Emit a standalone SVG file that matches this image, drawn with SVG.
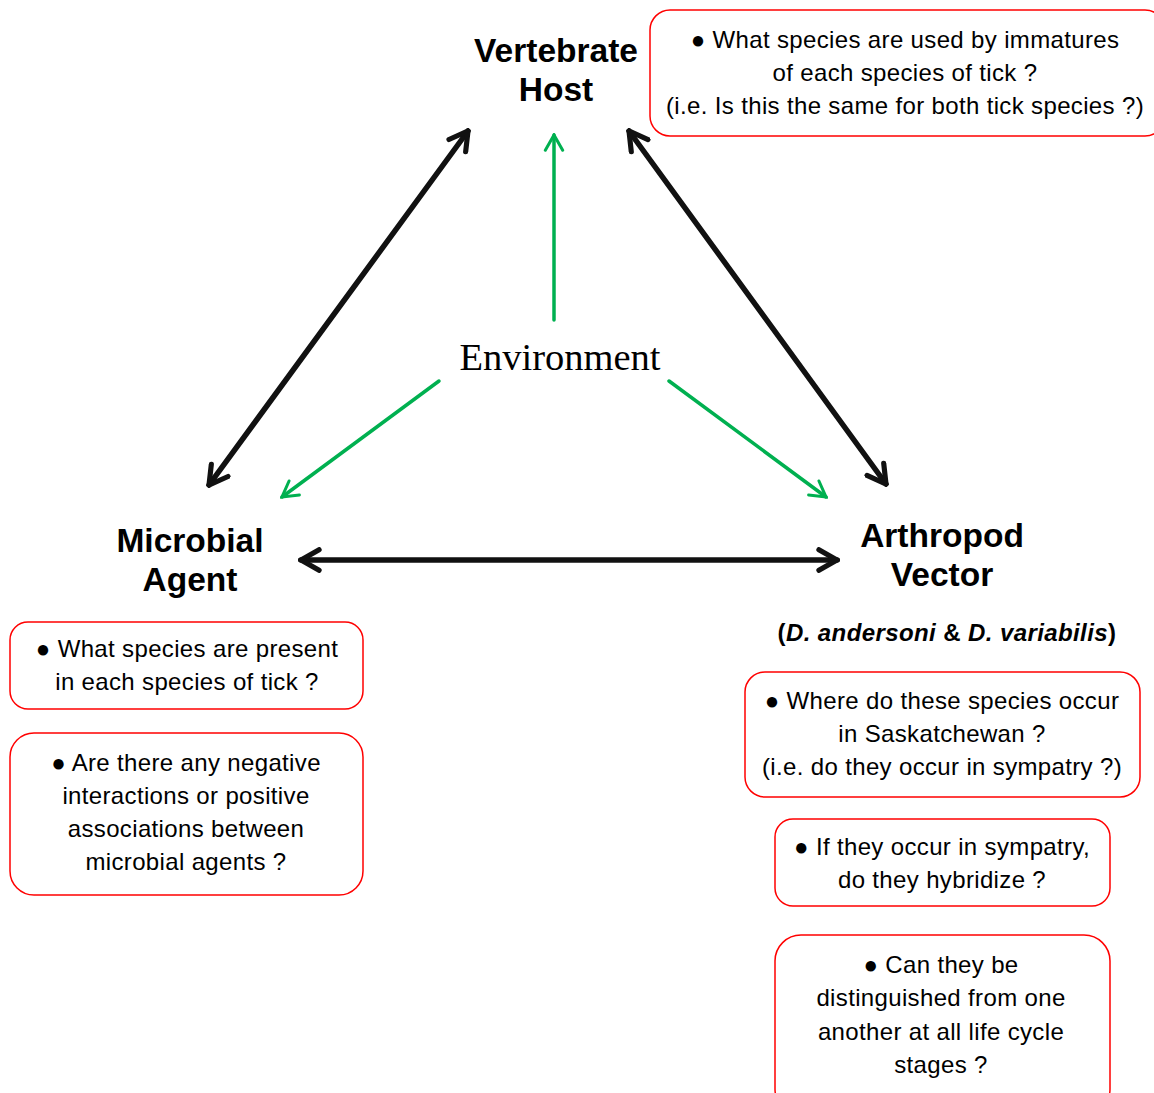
<svg xmlns="http://www.w3.org/2000/svg" width="1154" height="1093" viewBox="0 0 1154 1093">
<style>
.title{font-family:"Liberation Sans",Arial,sans-serif;font-weight:bold;font-size:33.5px;fill:#000;text-anchor:middle}
.q{font-family:"Liberation Sans",Arial,sans-serif;font-size:24px;letter-spacing:0.35px;fill:#000;text-anchor:middle}
.box{fill:#fff;stroke:#ff0000;stroke-width:1.5}
.blk{stroke:#111;stroke-width:5.5;fill:none;stroke-linecap:round}
.grn{stroke:#00b050;stroke-width:3.5;fill:none;stroke-linecap:round}
</style>
<defs>
<marker id="ah" viewBox="0 0 10 10" refX="9" refY="5" markerWidth="4.7" markerHeight="4.7" orient="auto-start-reverse" markerUnits="strokeWidth">
<path d="M2,1 L9,5 L2,9" fill="none" stroke="#111" stroke-width="2" stroke-linecap="round" stroke-linejoin="miter"/>
</marker>
<marker id="ag" viewBox="0 0 10 10" refX="9" refY="5" markerWidth="6.2" markerHeight="6.2" orient="auto" markerUnits="strokeWidth">
<path d="M2,1 L9,5 L2,9" fill="none" stroke="#00b050" stroke-width="1.4" stroke-linecap="round"/>
</marker>
</defs>
<rect width="1154" height="1093" fill="#fff"/>
<g id="connectors">
<line class="blk" x1="209" y1="485" x2="468" y2="131" marker-start="url(#ah)" marker-end="url(#ah)"/>
<line class="blk" x1="629" y1="131" x2="886" y2="484" marker-start="url(#ah)" marker-end="url(#ah)"/>
<line class="blk" x1="301" y1="560" x2="837" y2="560" marker-start="url(#ah)" marker-end="url(#ah)"/>
<line class="grn" x1="554" y1="320" x2="554" y2="135" marker-end="url(#ag)"/>
<line class="grn" x1="439" y1="381" x2="282" y2="497" marker-end="url(#ag)"/>
<line class="grn" x1="669" y1="381" x2="826" y2="497" marker-end="url(#ag)"/>
</g>
<g id="vertebrate-host">
<text class="title" x="556" y="62">Vertebrate</text>
<text class="title" x="556" y="101">Host</text>
</g>
<g id="environment">
<text x="560" y="370" font-family="'Liberation Serif','Times New Roman',serif" font-size="38.5" text-anchor="middle" fill="#000">Environment</text>
</g>
<g id="microbial-agent">
<text class="title" x="190" y="552">Microbial</text>
<text class="title" x="190" y="591">Agent</text>
</g>
<g id="arthropod-vector">
<text class="title" x="942" y="547">Arthropod</text>
<text class="title" x="942" y="586">Vector</text>
<text x="947" y="641" font-family="'Liberation Sans',Arial,sans-serif" font-weight="bold" font-size="24" letter-spacing="0.4" text-anchor="middle">(<tspan font-style="italic">D. andersoni</tspan> &amp; <tspan font-style="italic">D. variabilis</tspan>)</text>
</g>
<g id="q-host">
<rect class="box" x="650" y="10" width="515" height="126" rx="20"/>
<text class="q" x="905" y="48">● What species are used by immatures</text>
<text class="q" x="905" y="81">of each species of tick ?</text>
<text class="q" x="905" y="114">(i.e. Is this the same for both tick species ?)</text>
</g>
<g id="q-microbe-1">
<rect class="box" x="10" y="622" width="353" height="87" rx="18"/>
<text class="q" x="187" y="657">● What species are present</text>
<text class="q" x="187" y="690">in each species of tick ?</text>
</g>
<g id="q-microbe-2">
<rect class="box" x="10" y="733" width="353" height="162" rx="24"/>
<text class="q" x="186" y="771">● Are there any negative</text>
<text class="q" x="186" y="804">interactions or positive</text>
<text class="q" x="186" y="837">associations between</text>
<text class="q" x="186" y="870">microbial agents ?</text>
</g>
<g id="q-vector-1">
<rect class="box" x="745" y="672" width="395" height="125" rx="20"/>
<text class="q" x="942" y="709">● Where do these species occur</text>
<text class="q" x="942" y="742">in Saskatchewan ?</text>
<text class="q" x="942" y="775">(i.e. do they occur in sympatry ?)</text>
</g>
<g id="q-vector-2">
<rect class="box" x="775" y="819" width="335" height="87" rx="18"/>
<text class="q" x="942" y="855">● If they occur in sympatry,</text>
<text class="q" x="942" y="888">do they hybridize ?</text>
</g>
<g id="q-vector-3">
<rect class="box" x="775" y="935" width="335" height="180" rx="26"/>
<text class="q" x="941" y="973">● Can they be</text>
<text class="q" x="941" y="1006">distinguished from one</text>
<text class="q" x="941" y="1040">another at all life cycle</text>
<text class="q" x="941" y="1073">stages ?</text>
</g>
</svg>
